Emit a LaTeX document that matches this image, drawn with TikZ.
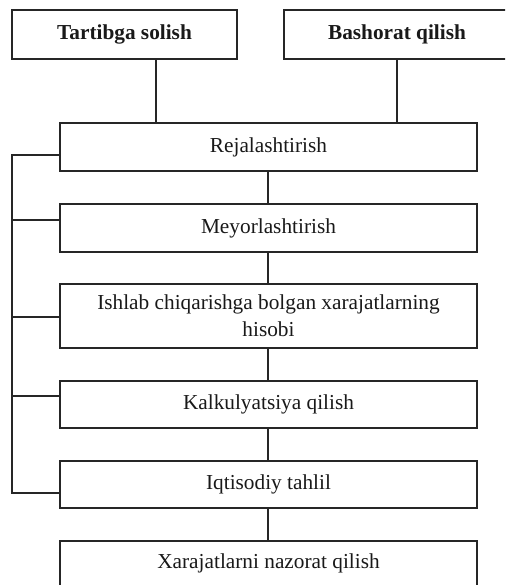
\documentclass[tikz,border=0pt]{standalone}
\usepackage{fontspec}
\setmainfont{Liberation Serif}
\begin{document}
\begin{tikzpicture}[x=1pt,y=-1pt,
  box/.style={draw=black!85, line width=1.2pt, fill=white, minimum width=417pt, minimum height=48pt, align=center, inner sep=0pt, font=\fontsize{21.3}{27}\selectfont, text=black!90},
  topbox/.style={box, minimum width=225pt, minimum height=49pt, font=\fontsize{21.3}{27}\selectfont\bfseries},
  link/.style={draw=black!85, line width=1.2pt},
  spine/.style={link, line width=1.4pt}]
\useasboundingbox (0,0) rectangle (505,585);
\clip (0,0) rectangle (505,585);
\node[topbox] (tart) at (124.5,34.5) {Tartibga solish};
\node[topbox, minimum width=226pt] (bash) at (397,34.5) {Bashorat qilish};
\node[box] (rej) at (268.5,147) {Rejalashtirish};
\node[box] (mey) at (268.5,228) {Meyorlashtirish};
\node[box, minimum height=64pt] (ish) at (268.5,316) {Ishlab chiqarishga bolgan xarajatlarning\\hisobi};
\node[box, minimum height=47pt] (kal) at (268.5,404.5) {Kalkulyatsiya qilish};
\node[box, minimum height=47pt] (iqt) at (268.5,484.5) {Iqtisodiy tahlil};
\node[box, minimum height=52pt, text height=15pt, text depth=12pt] (xar) at (268.5,567) {Xarajatlarni nazorat qilish};
% top connectors
\draw[link] ([xshift=31.5pt]tart.south) -- ([xshift=31.5pt]tart.south |- rej.north);
\draw[link] (bash.south) -- (bash.south |- rej.north);
% spine
\draw[spine] ([xshift=-0.5pt]rej.south) -- ([xshift=-0.5pt]mey.north);
\draw[spine] ([xshift=-0.5pt]mey.south) -- ([xshift=-0.5pt]ish.north);
\draw[spine] ([xshift=-0.5pt]ish.south) -- ([xshift=-0.5pt]kal.north);
\draw[spine] ([xshift=-0.5pt]kal.south) -- ([xshift=-0.5pt]iqt.north);
\draw[spine] ([xshift=-0.5pt]iqt.south) -- ([xshift=-0.5pt]xar.north);
% left bus
\coordinate (busB) at (12,493);
\draw[link] ([yshift=-8pt]rej.west) -| (busB) -- ([yshift=-8.5pt]iqt.west);
\draw[link] ([yshift=8pt]mey.west) -- ([yshift=8pt]mey.west -| busB);
\draw[link] ([yshift=-1pt]ish.west) -- ([yshift=-1pt]ish.west -| busB);
\draw[link] ([yshift=8.5pt]kal.west) -- ([yshift=8.5pt]kal.west -| busB);
\end{tikzpicture}
\end{document}
